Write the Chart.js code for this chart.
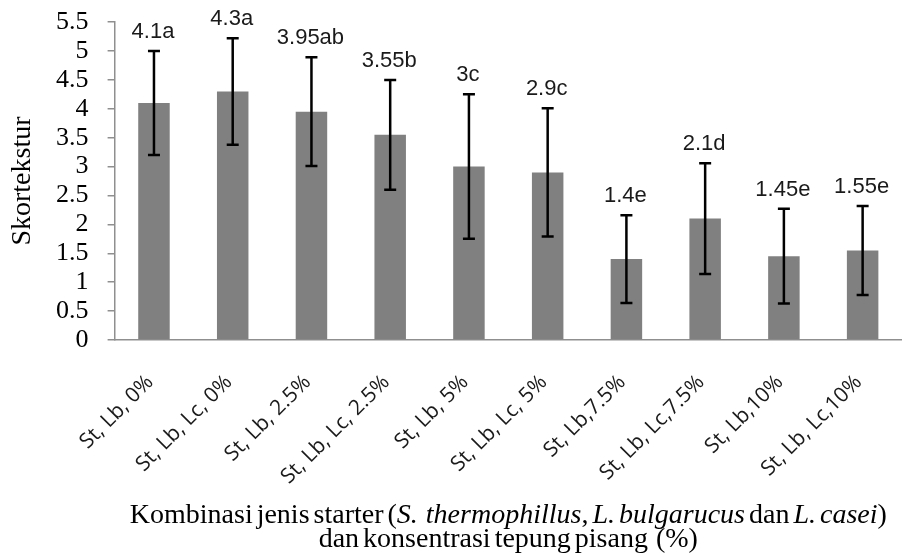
<!DOCTYPE html>
<html>
<head>
<meta charset="utf-8">
<script src="https://cdn.jsdelivr.net/npm/chart.js@4.4.0/dist/chart.umd.min.js"></script>
<style>
html,body{margin:0;padding:0;background:#fff;}
#wrap{width:902px;height:553px;position:relative;}
</style>
</head>
<body>
<div id="wrap"><canvas id="c" width="902" height="553"></canvas></div>
<script>
const categories = ['St, Lb, 0%','St, Lb, Lc, 0%','St, Lb, 2.5%','St, Lb, Lc, 2.5%','St, Lb, 5%','St, Lb, Lc, 5%','St, Lb,7.5%','St, Lb, Lc,7.5%','St, Lb,10%','St, Lb, Lc,10%'];
const values = [4.1, 4.3, 3.95, 3.55, 3.0, 2.9, 1.4, 2.1, 1.45, 1.55];
const errors = [0.9, 0.92, 0.94, 0.95, 1.25, 1.11, 0.76, 0.96, 0.82, 0.77];
const letters = ['a','a','ab','b','c','c','e','d','e','e'];
const yTicks = [0,0.5,1,1.5,2,2.5,3,3.5,4,4.5,5,5.5];
const yTitle = 'Skortekstur';
const xTitleLine1 = [
  ['Kombinasi jenis starter (', false],
  ['S.  thermophillus', true],
  [', ', false],
  ['L. bulgarucus', true],
  [' dan ', false],
  ['L. casei', true],
  [')', false]
];
const xTitleLine2 = 'dan konsentrasi tepung pisang  (%)';

const AXIS = '#8f8f8f';

const errorBarPlugin = {
  id: 'errbars',
  afterDatasetsDraw(chart) {
    const ctx = chart.ctx;
    const meta = chart.getDatasetMeta(0);
    const ys = chart.scales.y;
    ctx.save();
    ctx.strokeStyle = '#000';
    ctx.lineWidth = 2.5;
    ctx.font = '22px "Liberation Sans", Arial, sans-serif';
    ctx.fillStyle = '#1a1a1a';
    ctx.textAlign = 'center';
    ctx.textBaseline = 'alphabetic';
    meta.data.forEach((bar, i) => {
      const x = bar.x;
      const yt = ys.getPixelForValue(values[i] + errors[i]);
      const yb = ys.getPixelForValue(values[i] - errors[i]);
      ctx.beginPath();
      ctx.moveTo(x, yt); ctx.lineTo(x, yb);
      ctx.moveTo(x - 6, yt); ctx.lineTo(x + 6, yt);
      ctx.moveTo(x - 6, yb); ctx.lineTo(x + 6, yb);
      ctx.stroke();
      ctx.fillText(String(values[i]) + letters[i], x - 1, yt - 13);
    });
    ctx.restore();
  }
};

const xTitlePlugin = {
  id: 'xtitle',
  afterDraw(chart) {
    const ctx = chart.ctx;
    const ca = chart.chartArea;
    const cx = (ca.left + ca.right) / 2;
    const size = 28;
    ctx.save();
    ctx.fillStyle = '#000';
    ctx.textBaseline = 'alphabetic';
    ctx.textAlign = 'left';
    try { ctx.wordSpacing = '-3px'; } catch(e) {}
    const fnt = it => (it ? 'italic ' : '') + size + 'px "Liberation Serif", "Times New Roman", serif';
    let total = 0;
    xTitleLine1.forEach(([t, it]) => { ctx.font = fnt(it); total += ctx.measureText(t).width; });
    let x = cx - total / 2;
    const y1 = chart.height - 30;
    xTitleLine1.forEach(([t, it]) => { ctx.font = fnt(it); ctx.fillText(t, x, y1); x += ctx.measureText(t).width; });
    ctx.font = fnt(false);
    ctx.textAlign = 'center';
    ctx.fillText(xTitleLine2, cx, chart.height - 6);
    ctx.restore();
  }
};

new Chart(document.getElementById('c'), {
  type: 'bar',
  data: {
    labels: categories,
    datasets: [{
      data: values,
      backgroundColor: '#808080',
      borderWidth: 0,
      barPercentage: 0.4,
      categoryPercentage: 1.0
    }]
  },
  options: {
    responsive: false,
    animation: false,
    devicePixelRatio: 1,
    layout: { padding: { top: 22.1, left: 0, right: -4, bottom: 0 } },
    plugins: { legend: { display: false }, tooltip: { enabled: false } },
    scales: {
      x: {
        grid: { display: false },
        border: { display: true, color: AXIS, width: 1.5 },
        ticks: {
          color: '#1a1a1a',
          font: { family: '"Open Sans", "Liberation Sans", Arial, sans-serif', size: 21 },
          minRotation: 45, maxRotation: 45,
          padding: 22,
          labelOffset: -4,
          autoSkip: false
        },
        afterFit(s) { s.height = 213; s.paddingLeft = 0; s.paddingRight = -4; s.paddingTop = 0; s.paddingBottom = 0; }
      },
      y: {
        min: 0, max: 5.5,
        afterBuildTicks(s) { s.ticks = yTicks.map(v => ({ value: v })); },
        grid: { display: true, drawOnChartArea: false, drawTicks: true, tickLength: 7, color: AXIS, lineWidth: 1.5 },
        border: { display: true, color: AXIS, width: 1.5 },
        ticks: {
          color: '#000',
          font: { family: '"Liberation Serif", "Times New Roman", serif', size: 26, lineHeight: 1 },
          padding: 19,
          autoSkip: false,
          callback: v => String(v)
        },
        title: {
          display: true,
          text: yTitle,
          color: '#000',
          font: { family: '"Liberation Serif", "Times New Roman", serif', size: 28 },
          padding: { top: 6, bottom: 0 }
        },
        afterFit(s) { s.width = 114.6; s.paddingTop = 0; s.paddingBottom = 0; s.paddingLeft = 0; s.paddingRight = -4; }
      }
    }
  },
  plugins: [errorBarPlugin, xTitlePlugin]
});
</script>
</body>
</html>
